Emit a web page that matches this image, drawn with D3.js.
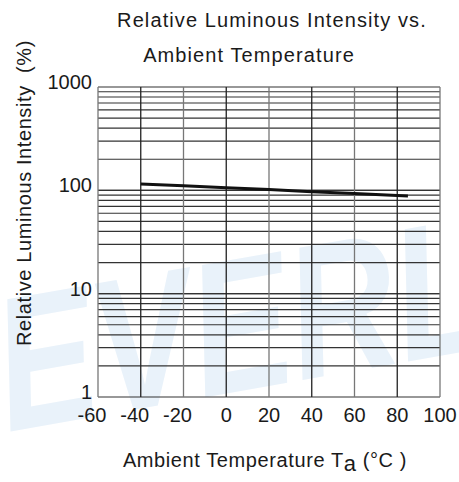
<!DOCTYPE html>
<html>
<head>
<meta charset="utf-8">
<script src="https://cdn.jsdelivr.net/npm/d3@7"></script>
<style>
  body { margin: 0; background: #fff; }
  text { font-family: "Liberation Sans", Arial, sans-serif; fill: #1a1a1a; }
</style>
</head>
<body>
<svg id="svg1" width="459" height="482"></svg>
<script>
var svg = d3.select('#svg1');

// data
var temps = [-40, -20, 0, 20, 40, 60, 85];
var intensity = [115, 111, 106, 102, 97, 93, 88];
var xTicks = [-60, -40, -20, 0, 20, 40, 60, 80, 100];
var yTicks = [1, 10, 100, 1000];

var plot = {l: 98, r: 440, t: 87, b: 397};

var xScale = d3.scaleLinear().domain([-60, 100]).range([plot.l, plot.r]);
var yScale = d3.scaleLog().domain([1, 1000]).range([plot.b, plot.t]);

// faint watermark
svg.append('text')
    .attr('transform', 'translate(8,432) rotate(-10) scale(0.78,1)')
    .style('font-size', '190px')
    .style('font-weight', 'bold')
    .style('font-style', 'italic')
    .style('fill', '#e9f2fa')
    .text('EVERLIGHT');

// minor log grid
var minor = [];
for (var d = 1; d < 1000; d *= 10) {
    for (var k = 1; k <= 10; k++) minor.push(d * k);
}

var grid = svg.append('g').attr('class', 'grid');

grid.selectAll('.hline')
    .data(minor)
    .enter()
    .append('line')
    .attr('x1', plot.l)
    .attr('x2', plot.r)
    .attr('y1', function(d) { return yScale(d); })
    .attr('y2', function(d) { return yScale(d); })
    .style('stroke', '#333')
    .style('stroke-width', 1.2);

grid.selectAll('.vline')
    .data(xTicks)
    .enter()
    .append('line')
    .attr('x1', function(d) { return xScale(d); })
    .attr('x2', function(d) { return xScale(d); })
    .attr('y1', plot.t)
    .attr('y2', plot.b)
    .style('stroke', function(d, i) { return i % 2 == 0 ? '#777' : '#222'; })
    .style('stroke-width', 1.3);

// curve
var line = d3.line()
    .x(function(d) { return xScale(d[0]); })
    .y(function(d) { return yScale(d[1]); });

svg.append('path')
    .datum(d3.zip(temps, intensity))
    .attr('d', line)
    .style('fill', 'none')
    .style('stroke', '#111')
    .style('stroke-width', 3);

// tick labels
svg.selectAll('.ylab')
    .data(yTicks)
    .enter()
    .append('text')
    .attr('x', 92)
    .attr('y', function(d) { return yScale(d) + 2; })
    .attr('text-anchor', 'end')
    .style('font-size', '20px')
    .text(function(d) { return d; });

svg.selectAll('.xlab')
    .data(xTicks)
    .enter()
    .append('text')
    .attr('x', function(d) { return xScale(d) + (d < 0 ? -6 : 0); })
    .attr('y', 422)
    .attr('text-anchor', 'middle')
    .style('font-size', '20px')
    .text(function(d) { return d; });

// titles
svg.append('text')
    .attr('x', 272).attr('y', 27)
    .attr('text-anchor', 'middle')
    .style('font-size', '20px')
    .style('letter-spacing', '1.1px')
    .text('Relative Luminous Intensity vs.');

svg.append('text')
    .attr('x', 249).attr('y', 62)
    .attr('text-anchor', 'middle')
    .style('font-size', '20px')
    .style('letter-spacing', '1.1px')
    .text('Ambient Temperature');

var xt = svg.append('text')
    .attr('x', 265).attr('y', 467)
    .attr('text-anchor', 'middle')
    .style('font-size', '20px')
    .style('letter-spacing', '0.6px');
xt.append('tspan').text('Ambient Temperature T');
xt.append('tspan').attr('dy', 4).style('font-size', '22px').text('a');
xt.append('tspan').attr('dy', -4).text(' (°C )');

svg.append('text')
    .attr('transform', 'translate(31,193) rotate(-90)')
    .attr('text-anchor', 'middle')
    .style('font-size', '20px')
    .style('letter-spacing', '0.6px')
    .style('white-space', 'pre')
    .text('Relative Luminous Intensity  (%)');
</script>
</body>
</html>
